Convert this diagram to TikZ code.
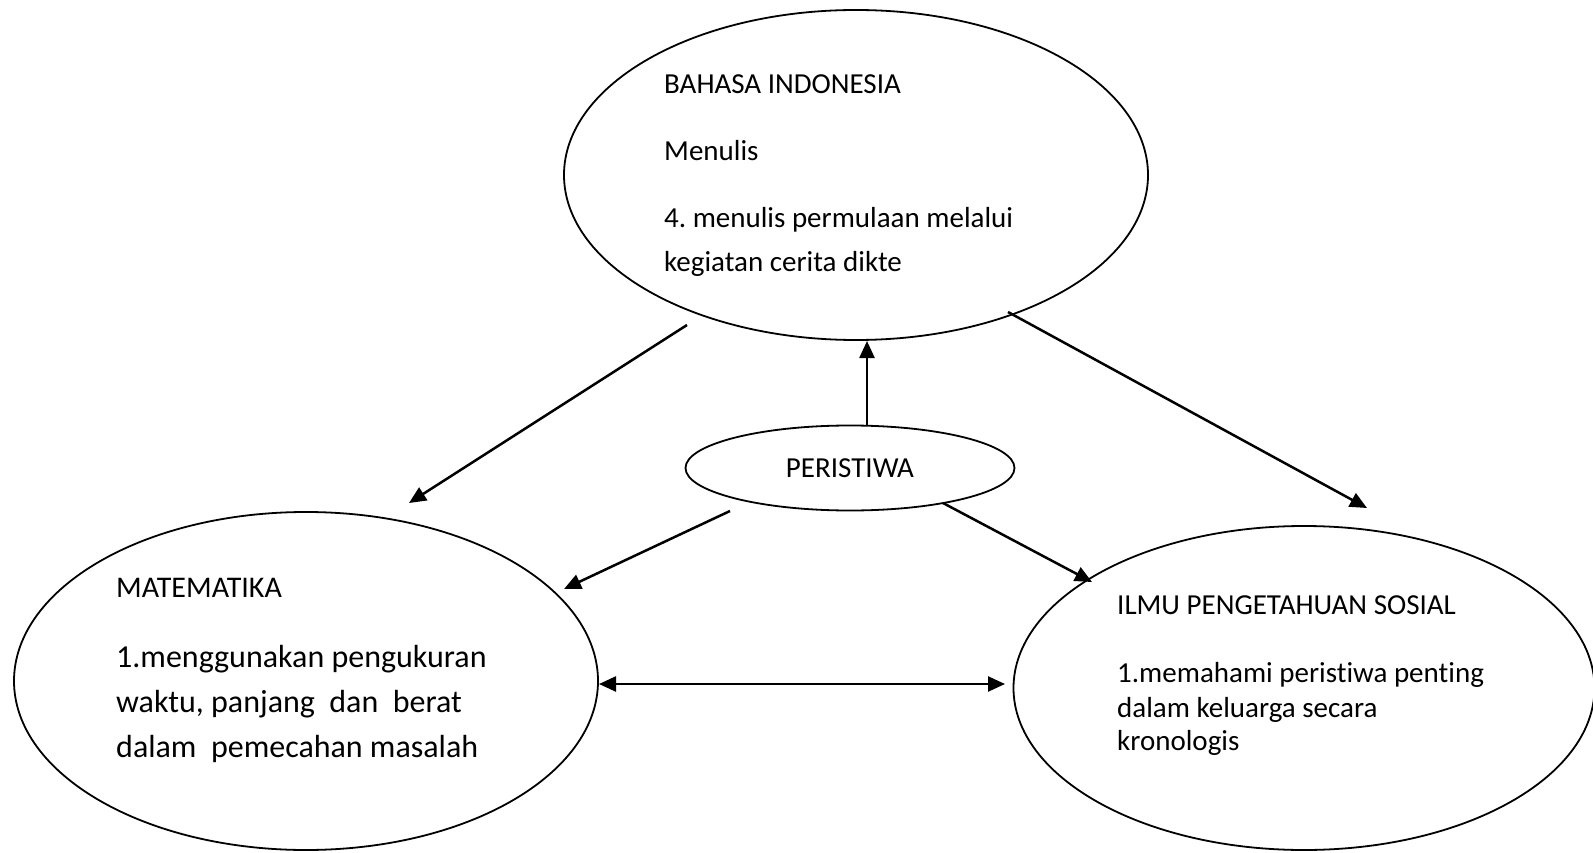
\documentclass[tikz,border=0pt]{standalone}
\usepackage{fontspec}
\setmainfont{Carlito}[Ligatures=NoCommon]
\usetikzlibrary{shapes.geometric,arrows.meta}
\frenchspacing

\begin{document}
\begin{tikzpicture}[x=1pt,y=-1pt,
	bubble/.style={draw,ellipse,line width=1.8pt,inner sep=0pt},
	link/.style={line width=2.5pt,-{Triangle[length=17pt,width=15pt]}},
	every node/.style={font=\fontsize{29}{35}\selectfont}]
\useasboundingbox (0,0) rectangle (1593,853);
% ellipses
\node[bubble,minimum width=584pt,minimum height=330pt] (bahasa) at (856,175) {};
\node[bubble,minimum width=329pt,minimum height=85pt] (peristiwa) at (850,468) {PERISTIWA};
\node[bubble,minimum width=584pt,minimum height=338pt] (matematika) at (306,681) {};
\node[bubble,minimum width=581pt,minimum height=324pt] (ips) at (1304,688) {};
% texts
\foreach \txt/\y [count=\i] in {
	BAHASA INDONESIA/94,
	Menulis/161,
	4. menulis permulaan melalui/228,
	kegiatan cerita dikte/271%
	}{
	\node[anchor=base west,inner sep=0pt] (bahasa-\i) at (664,\y) {\txt};
	}
\node[anchor=base west,inner sep=0pt,font=\fontsize{30}{36}\selectfont] (matematika-1) at (116,597) {MATEMATIKA};
\foreach \txt/\y [count=\i from 2] in {
	1.menggunakan pengukuran/667,
	{waktu, panjang\ \ dan\ \ berat}/712,
	dalam\ \ pemecahan masalah/757%
	}{
	\node[anchor=base west,inner sep=0pt,font=\fontsize{32}{38}\selectfont] (matematika-\i) at (116,\y) {\txt};
	}
\foreach \txt/\y [count=\i] in {
	ILMU PENGETAHUAN SOSIAL/614,
	1.memahami peristiwa penting/682,
	dalam keluarga secara/717,
	kronologis/750%
	}{
	\node[anchor=base west,inner sep=0pt] (ips-\i) at (1117,\y) {\txt};
	}
% arrow ends
\coordinate (b-m) at (687,325);
\coordinate (m-b) at (409,503);
\coordinate (b-s) at (1008,312);
\coordinate (s-b) at (1367,508);
\coordinate (p-up) at (867,426);
\coordinate (b-up) at (867,341);
\coordinate (p-m) at (730,511);
\coordinate (m-p) at (564,589);
\coordinate (p-s) at (943,503);
\coordinate (s-p) at (1092,582);
\coordinate (m-s) at (599,684);
\coordinate (s-m) at (1005,684);
% arrows
\draw[link] (b-m) -- (m-b);
\draw[link] (b-s) -- (s-b);
\draw[link] (p-up) -- (b-up);
\draw[link] (p-m) -- (m-p);
\draw[link] (p-s) -- (s-p);
\draw[link,{Triangle[length=17pt,width=15pt]}-{Triangle[length=17pt,width=15pt]}] (m-s) -- (s-m);
\end{tikzpicture}
\end{document}
